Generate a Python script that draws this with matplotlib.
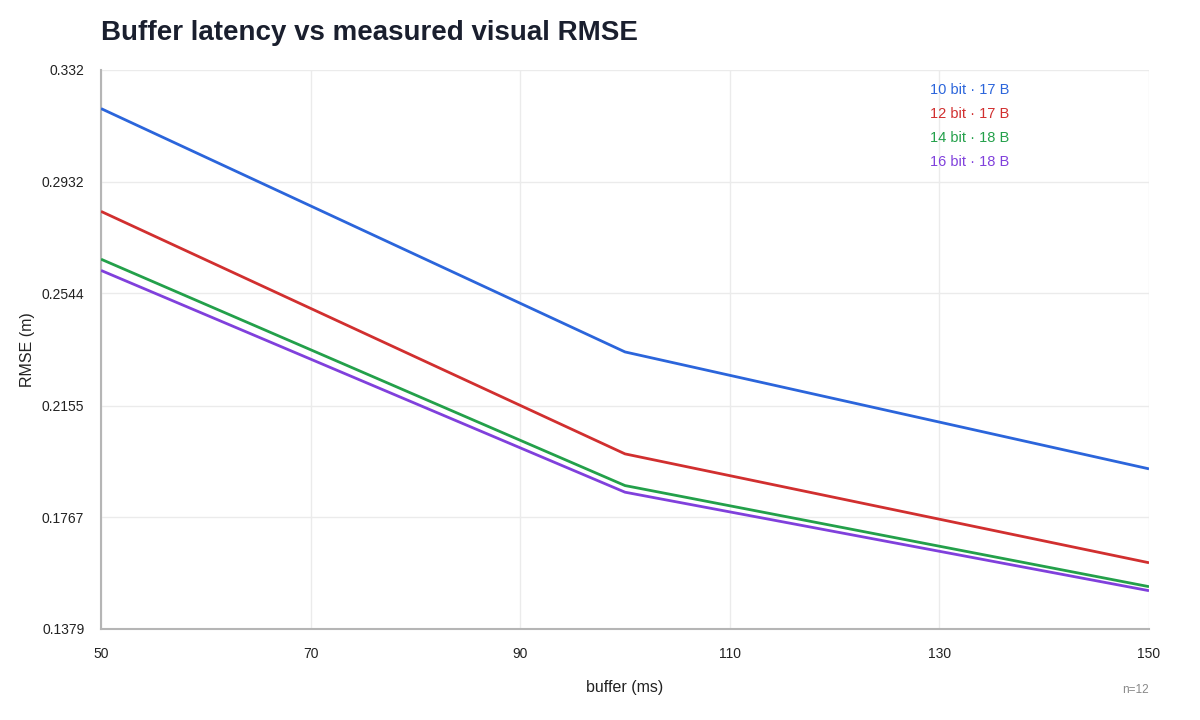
import matplotlib
matplotlib.use("Agg")
import matplotlib.pyplot as plt

plt.rcParams['font.family'] = ['Liberation Sans', 'DejaVu Sans']

# data
buffer_ms = [50, 100, 150]
series_names = ["10 bit · 17 B", "12 bit · 17 B", "14 bit · 18 B", "16 bit · 18 B"]
rmse_10bit = [0.3186, 0.2341, 0.1935]
rmse_12bit = [0.2829, 0.1987, 0.1609]
rmse_14bit = [0.2663, 0.1877, 0.1526]
rmse_16bit = [0.2624, 0.1854, 0.1512]
colors = ['#2b65db', '#d12f2f', '#23a04a', '#8040dc']

y_ticks = [0.1379, 0.1767, 0.2155, 0.2544, 0.2932, 0.332]
y_tick_labels = ["0.1379", "0.1767", "0.2155", "0.2544", "0.2932", "0.332"]
x_ticks = [50, 70, 90, 110, 130, 150]

fig = plt.figure(figsize=(12, 7.2), dpi=100)
ax = fig.add_axes([0.0842, 0.1264, 0.8733, 0.7764])

all_series = [rmse_10bit, rmse_12bit, rmse_14bit, rmse_16bit]
for vals, color in zip(all_series, colors):
    ax.plot(buffer_ms, vals, color=color, lw=2.0, solid_capstyle='butt', zorder=3)

ax.set_xlim(50, 150)
ax.set_ylim(0.1379, 0.332)
ax.set_xticks(x_ticks)
ax.set_yticks(y_ticks)
ax.set_yticklabels(y_tick_labels)
ax.tick_params(length=0, labelsize=10, colors='#222222')
ax.tick_params(axis='x', pad=13)
ax.tick_params(axis='y', pad=12)
ax.grid(True, color='#ebebeb', lw=1.0, zorder=0)

for side in ['top', 'right']:
    ax.spines[side].set_visible(False)
for side in ['left', 'bottom']:
    ax.spines[side].set_color('#b5b5b5')
    ax.spines[side].set_linewidth(1.5)

ax.set_xlabel("buffer (ms)", fontsize=11.5, color='#222222', labelpad=14)
ax.set_ylabel("RMSE (m)", fontsize=11.5, color='#222222', labelpad=5)

fig.text(101 / 1200, 1 - 33 / 720, "Buffer latency vs measured visual RMSE",
         fontsize=20, fontweight='bold', color='#1a1f2e', va='center', ha='left')

# legend as coloured text, no handles
for i, (name, color) in enumerate(zip(series_names, colors)):
    fig.text(930 / 1200, 1 - (90 + 24 * i) / 720, name, fontsize=10.5,
             color=color, va='center', ha='left')

fig.text(1149 / 1200, 1 - 690 / 720, "n=12", fontsize=8.5, color='#888888',
         va='center', ha='right')

fig.savefig("out.png", dpi=100)
